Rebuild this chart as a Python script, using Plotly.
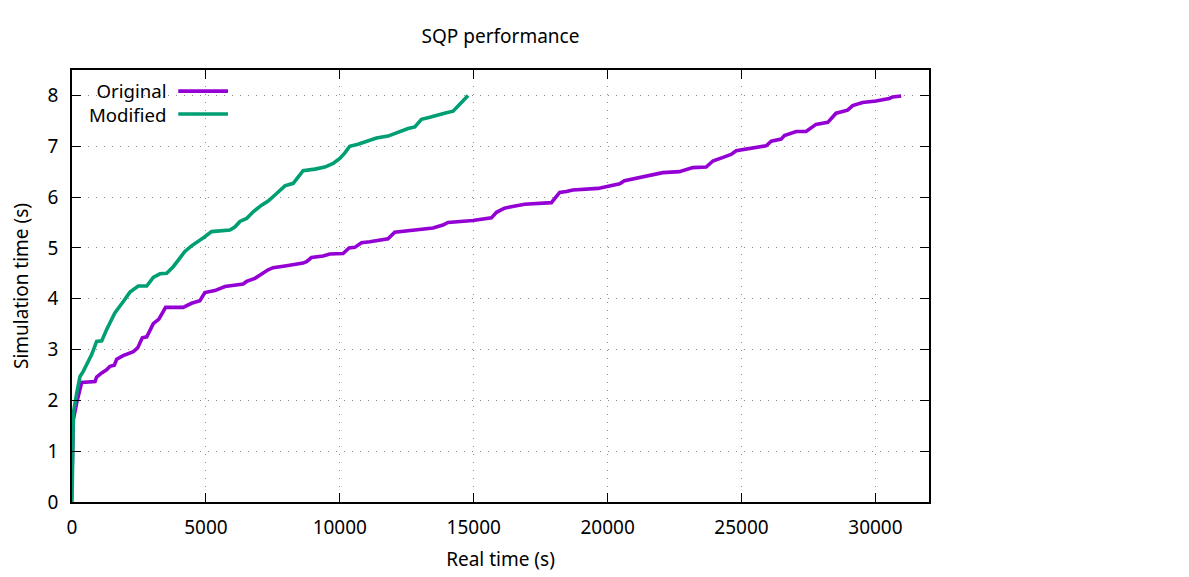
import plotly.graph_objects as go

title_text = "SQP performance"
x_title = "Real time (s)"
y_title = "Simulation time (s)"

series_names = ["Original", "Modified"]
series_colors = ["#9400D3", "#009E73"]

orig_x = [5, 50, 175, 360, 860, 920, 1110, 1290, 1420, 1580, 1670, 1910, 2290, 2450, 2625, 2790,
          3035, 3245, 3495, 4150, 4465, 4775, 4960, 5335, 5710, 6390, 6520, 6830, 7325, 7510, 8010,
          8630, 8757, 8943, 9377, 9626, 10122, 10346, 10560, 10810, 11120, 11800, 12050, 12730,
          13480, 13850, 14040, 14970, 15290, 15660, 15850, 16150, 16400, 16900, 17900, 18210,
          18460, 18700, 19640, 19950, 20450, 20630, 21320, 22060, 22680, 23180, 23680, 23930,
          24360, 24610, 24800, 25300, 25920, 26110, 26480, 26600, 27040, 27410, 27780, 28220,
          28530, 28960, 29150, 29520, 30020, 30520, 30640, 30960]
orig_y = [0.6, 1.62, 1.95, 2.35, 2.37, 2.46, 2.54, 2.60, 2.67, 2.69, 2.81, 2.88, 2.96, 3.03, 3.23, 3.25,
          3.51, 3.60, 3.83, 3.83, 3.91, 3.96, 4.12, 4.16, 4.24, 4.29, 4.34, 4.40, 4.57, 4.61, 4.65,
          4.70, 4.73, 4.81, 4.84, 4.88, 4.89, 5.00, 5.01, 5.10, 5.12, 5.18, 5.31, 5.34,
          5.39, 5.45, 5.50, 5.54, 5.57, 5.59, 5.70, 5.78, 5.81, 5.86, 5.89, 6.09,
          6.11, 6.14, 6.17, 6.20, 6.26, 6.32, 6.39, 6.48, 6.50, 6.58, 6.59, 6.71,
          6.79, 6.84, 6.91, 6.95, 7.01, 7.10, 7.14, 7.21, 7.29, 7.29, 7.43, 7.47,
          7.65, 7.71, 7.80, 7.86, 7.89, 7.94, 7.97, 7.99]

mod_x = [0, 10, 50, 175, 300, 420, 610, 735, 920, 1110, 1290, 1600, 1910, 2165, 2475, 2790, 3035,
         3285, 3535, 3780, 3970, 4215, 4465, 4710, 4960, 5210, 5520, 5895, 6080, 6270, 6520, 6765,
         7080, 7325, 7640, 7950, 8260, 8630, 9070, 9440, 9750, 10000, 10190, 10370, 10680, 10930,
         11370, 11800, 12240, 12550, 12800, 13050, 13360, 13610, 13980, 14230, 14480, 14790]
mod_y = [0, 0.97, 1.75, 2.14, 2.47, 2.57, 2.77, 2.90, 3.16, 3.17, 3.39, 3.72, 3.94, 4.13, 4.25, 4.25, 4.42,
         4.49, 4.50, 4.63, 4.76, 4.93, 5.04, 5.14, 5.22, 5.32, 5.34, 5.35, 5.41, 5.52, 5.58, 5.71,
         5.84, 5.92, 6.07, 6.22, 6.27, 6.52, 6.55, 6.59, 6.66, 6.76, 6.87, 7.00, 7.04, 7.09,
         7.16, 7.20, 7.29, 7.35, 7.38, 7.53, 7.57, 7.61, 7.66, 7.69, 7.84, 8.00]

x_ticks = [0, 5000, 10000, 15000, 20000, 25000, 30000]
y_ticks = [0, 1, 2, 3, 4, 5, 6, 7, 8]

FONT = "Noto Sans"
FS = 19
W, H = 1189, 577

fig = go.Figure()
for name, color, xs, ys in [(series_names[0], series_colors[0], orig_x, orig_y),
                            (series_names[1], series_colors[1], mod_x, mod_y)]:
    fig.add_trace(go.Scatter(x=xs, y=ys, mode="lines", name=name,
                             line=dict(color=color, width=3.6), showlegend=False))

axis_common = dict(
    showline=True, linecolor="black", linewidth=1.5, mirror="allticks",
    ticks="inside", ticklen=9, tickwidth=1.3, tickcolor="black",
    showgrid=True, gridcolor="#8c8c8c", griddash="1px,7px", gridwidth=1,
    zeroline=False, tickfont=dict(family=FONT, size=FS, color="black"),
    automargin=False,
)

fig.update_layout(
    width=W, height=H,
    margin=dict(l=64, r=268, t=62, b=83),
    paper_bgcolor="white", plot_bgcolor="white",
    title=dict(text=title_text, x=(64 + 921) / 2 / W, xanchor="center", y=1 - 28 / H,
               yanchor="middle", font=dict(family=FONT, size=FS, color="black")),
    xaxis=dict(range=[0, 32000], tickvals=x_ticks, ticktext=[str(v) for v in x_ticks],
               title=dict(text=x_title, standoff=14, font=dict(family=FONT, size=FS, color="black")),
               ticklabelstandoff=7, **axis_common),
    yaxis=dict(range=[0, 8.5], tickvals=y_ticks, ticktext=[str(v) for v in y_ticks],
               title=dict(text=y_title, standoff=20, font=dict(family=FONT, size=FS, color="black")),
               ticklabelstandoff=8, **axis_common),
    showlegend=False,
)

# gnuplot-style key: text right-aligned, sample line to the right
key_y = [0.951, 0.898]
fig.add_annotation(x=0.112, y=sum(key_y) / 2, xref="paper", yref="paper",
                   text="<br>".join(series_names), align="right",
                   showarrow=False, xanchor="right", yanchor="middle",
                   font=dict(family=FONT, size=18.6, color="black"))
for i, color in enumerate(series_colors):
    fig.add_shape(type="line", xref="paper", yref="paper", x0=0.124, x1=0.182,
                  y0=key_y[i], y1=key_y[i], line=dict(color=color, width=3.6))

fig.write_html("out.html")
